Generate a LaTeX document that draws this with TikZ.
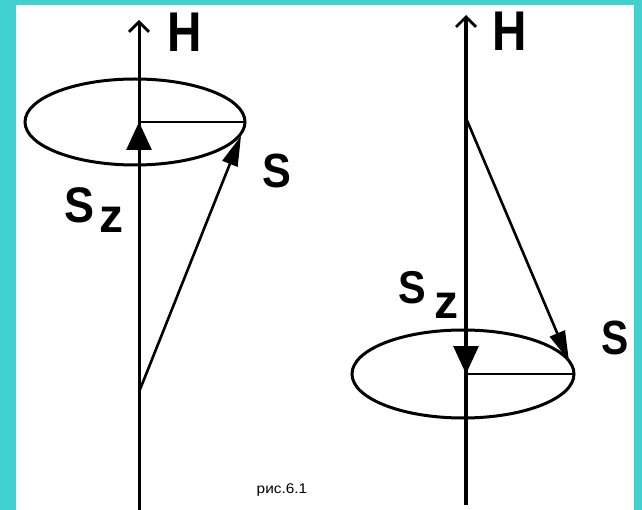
\documentclass[tikz,border=0pt]{standalone}
\usepackage{fontspec}
\setmainfont{Liberation Sans}
\usetikzlibrary{arrows.meta}
\definecolor{teal1}{RGB}{64,208,208}
\tikzset{
  axisline/.style={line width=3pt,-{Straight Barb[length=10pt,width=20pt,line width=2.8pt]}},
  ring/.style={line width=3pt},
  radius/.style={line width=2.6pt},
  svec/.style={line width=2.6pt,-{Triangle[length=30pt,width=16pt]}},
  szvec/.style={line width=3pt,-{Triangle[length=28pt,width=25pt]}},
  lbl/.style={inner sep=0pt},
}
\newcommand{\bigfont}[1]{\bfseries\fontsize{#1}{#1}\selectfont}
\begin{document}
\begin{tikzpicture}[x=1pt,y=-1pt]
\useasboundingbox (0,0) rectangle (642,510);
\fill[teal1] (0,0) rectangle (642,510);
\fill[white] (16,5) rectangle (634,510);
% left
\coordinate (Lb) at (139,510);
\coordinate (Lt) at (139,20);
\coordinate (Lc) at (139,122);
\coordinate (Ls) at (139,392);
\coordinate (Le) at (245,122);
\coordinate (Lse) at (241,136);
\draw[ring] (135,122) ellipse [x radius=110, y radius=43];
\draw[axisline] (Lb) -- (Lt);
\draw[radius] (Lc) -- (Le);
\draw[szvec] (Ls) -- (Lc);
\draw[svec] (Ls) -- (Lse);
\node[lbl,font=\bigfont{56},xscale=0.85] (LH) at (185,32) {H};
\node[lbl,font=\bigfont{48},xscale=0.9] (LS) at (277,171) {S};
\node[lbl,font=\bigfont{50},xscale=0.9] (LSz1) at (80,205) {S};
\node[lbl,font=\bigfont{48}] (LSz2) at (111,220) {z};
% right
\coordinate (Rb) at (466,505);
\coordinate (Rt) at (466,15);
\coordinate (Rc) at (466,374);
\coordinate (Rs) at (466,118);
\coordinate (Re) at (573,374);
\coordinate (Rse) at (569,361);
\draw[ring] (463,374) ellipse [x radius=111, y radius=44];
\draw[axisline,line width=4.5pt] (Rb) -- (Rt);
\draw[radius] (Rc) -- (Re);
\draw[szvec] (Rs) -- (Rc);
\draw[svec] (Rs) -- (Rse);
\node[lbl,font=\bigfont{56},xscale=0.85] (RH) at (510,31) {H};
\node[lbl,font=\bigfont{48},xscale=0.85] (RS) at (615,338) {S};
\node[lbl,font=\bigfont{46},xscale=0.9] (RSz1) at (412,288) {S};
\node[lbl,font=\bigfont{48}] (RSz2) at (446,306) {z};
\node[lbl,font=\fontsize{14}{14}\selectfont,xscale=1.1] (cap) at (282,490) {рис.6.1};
\end{tikzpicture}
\end{document}
